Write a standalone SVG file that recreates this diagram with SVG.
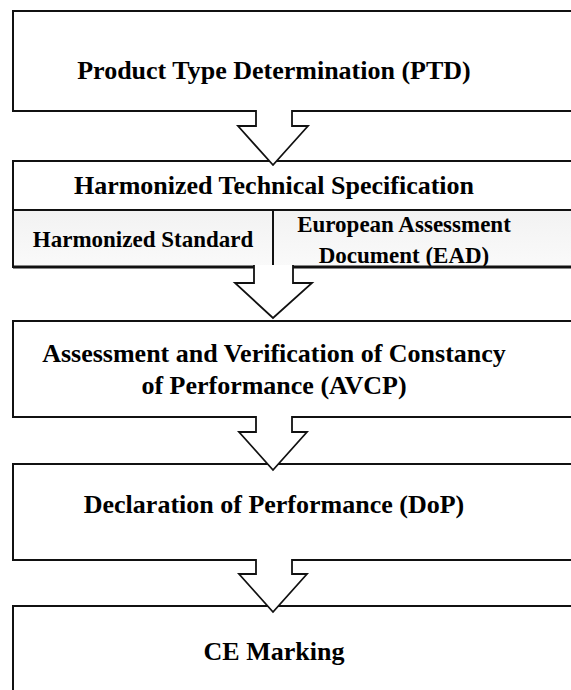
<svg xmlns="http://www.w3.org/2000/svg" width="571" height="690" viewBox="0 0 571 690">
<style>
.box{fill:#fff;stroke:#111;stroke-width:2}
.sub{fill:url(#g);stroke:#111;stroke-width:2}
.arr{fill:#fff;stroke:#111;stroke-width:1.8;stroke-linejoin:miter}
text{font-family:"Liberation Serif","Times New Roman",serif;font-weight:bold;fill:#000;text-anchor:middle}
.t{font-size:26px}
.s{font-size:23px}
</style>
<defs>
<linearGradient id="g" x1="0" y1="0" x2="0" y2="1">
<stop offset="0" stop-color="#f2f2f2"/>
<stop offset="1" stop-color="#fafafa"/>
</linearGradient>
</defs>
<rect width="571" height="690" fill="#fff"/>
<g id="n1"><rect class="box" x="13" y="11" width="570" height="100"/><text class="t" x="274" y="79">Product Type Determination (PTD)</text></g>
<g id="n2"><rect class="box" x="13" y="161" width="570" height="49"/><text class="t" x="274" y="194">Harmonized Technical Specification</text></g>
<g id="n2a"><rect class="sub" x="13" y="210" width="260" height="57"/><text class="s" x="143" y="247">Harmonized Standard</text></g>
<g id="n2b"><rect class="sub" x="273" y="210" width="310" height="57"/><text class="s" x="404" y="232">European Assessment</text><text class="s" x="404" y="263">Document (EAD)</text></g>
<line x1="13" y1="267" x2="571" y2="267" stroke="#111" stroke-width="3"/>
<g id="n3"><rect class="box" x="13" y="321" width="570" height="96"/><text class="t" x="274" y="362">Assessment and Verification of Constancy</text><text class="t" x="274" y="394">of Performance (AVCP)</text></g>
<g id="n4"><rect class="box" x="13" y="464" width="570" height="96"/><text class="t" x="274" y="513">Declaration of Performance (DoP)</text></g>
<g id="n5"><rect class="box" x="13" y="606" width="570" height="100"/><text class="t" x="274" y="660">CE Marking</text></g>
<g id="connectors">
<path class="arr" d="M256 110 V126 H238 L273 165 L308 126 H292 V110"/>
<path class="arr" d="M254 265 V283 H235 L273 318 L312 283 H293 V265"/>
<path class="arr" d="M256 416 V432 H239 L273 470 L307 432 H292 V416"/>
<path class="arr" d="M256 559 V574 H239 L273 612 L307 574 H292 V559"/>
</g>
</svg>
